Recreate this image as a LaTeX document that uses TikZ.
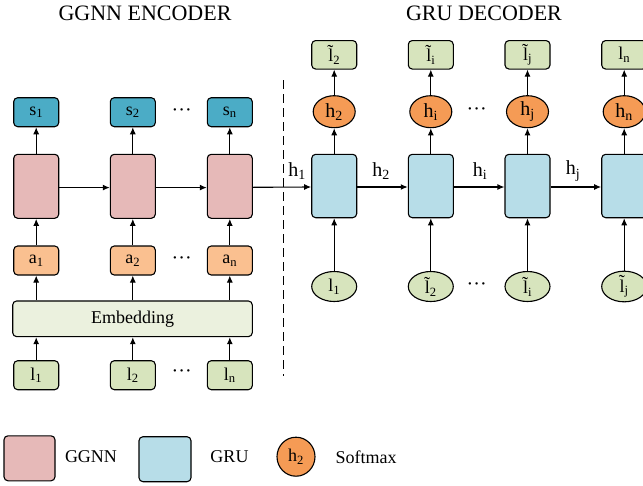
\documentclass[tikz,border=0pt]{standalone}
\usepackage{fontspec}
\setmainfont{Liberation Serif}
\usetikzlibrary{arrows.meta,shapes.geometric}
\definecolor{ggnn}{RGB}{230,185,184}
\definecolor{sboxc}{RGB}{75,172,198}
\definecolor{aboxc}{RGB}{250,192,144}
\definecolor{gruc}{RGB}{183,221,232}
\definecolor{softc}{RGB}{245,155,85}
\definecolor{lboxc}{RGB}{215,228,189}
\definecolor{embc}{RGB}{235,241,222}
\newcommand{\ltil}{\~{l}}
\newcommand{\mdots}{\textperiodcentered\textperiodcentered\textperiodcentered}
\begin{document}
\begin{tikzpicture}[x=1pt,y=-1pt,
  txt/.style={font=\fontsize{18}{20}\selectfont},
  bx/.style={draw, rounded corners=4pt, line width=1.1pt, inner sep=0pt, minimum width=45pt, minimum height=29pt, txt},
  tall/.style={bx, minimum height=64pt},
  ell/.style={draw, ellipse, line width=1.1pt, inner sep=0pt, txt},
  arr/.style={line width=1.1pt, -{Latex[length=7pt,width=6pt]}},
  dotsn/.style={inner sep=0pt, font=\fontsize{20}{22}\selectfont}
]
\useasboundingbox (0,0) rectangle (643,485);
\fill[white] (0,0) rectangle (643,485);
\clip (0,0) rectangle (643,485);

% titles
\node[font=\fontsize{22}{24}\selectfont] (t_enc) at (145,13) {GGNN ENCODER};
\node[font=\fontsize{22}{24}\selectfont] (t_dec) at (484,13) {GRU DECODER};

% encoder
\foreach \i/\x/\s in {1/36.2/1, 2/132.8/2, 3/229.8/n} {
  \node[bx, fill=sboxc] (s\i) at (\x,112.2) {s\textsubscript{\s}};
  \node[tall, fill=ggnn] (p\i) at (\x,186.3) {};
  \node[bx, fill=aboxc] (a\i) at (\x,260.5) {a\textsubscript{\s}};
  \node[bx, fill=lboxc] (l\i) at (\x,375.2) {l\textsubscript{\s}};
}
\node[bx, fill=embc, minimum width=239.6pt, minimum height=35.7pt] (emb) at (132.5,318.8) {Embedding};

\foreach \i in {1,2,3} {
  \draw[arr] (l\i.north) -- (l\i.north |- emb.south);
  \draw[arr] (a\i.south |- emb.north) -- (a\i.south);
  \draw[arr] (a\i.north) -- (p\i.south);
  \draw[arr] (p\i.north) -- (s\i.south);
}
\draw[arr] ([yshift=-1.3pt]p1.east) -- ([yshift=-1.3pt]p2.west);
\draw[arr] ([yshift=-1.3pt]p2.east) -- ([yshift=-1.3pt]p3.west);

\node[dotsn] (d1) at (181.7,113) {\mdots};
\node[dotsn] (d2) at (181.7,261) {\mdots};
\node[dotsn] (d3) at (181.7,374) {\mdots};

% divider
\coordinate (dv1) at (283.3,80);
\coordinate (dv2) at (283.3,376);
\draw[line width=1.1pt, dash pattern=on 9pt off 5pt] (dv1) -- (dv2);

% decoder
\foreach \i/\x/\top/\sm/\bot in {1/334.2/{\ltil\textsubscript{2}}/{h\textsubscript{2}}/{l\textsubscript{1}},
                                  2/430.8/{\ltil\textsubscript{i}}/{h\textsubscript{i}}/{\ltil\textsubscript{2}},
                                  3/527.5/{\ltil\textsubscript{j}}/{h\textsubscript{j}}/{\ltil\textsubscript{i}},
                                  4/624.2/{l\textsubscript{n}}/{h\textsubscript{n}}/{\ltil\textsubscript{j}}} {
  \node[bx, fill=lboxc, minimum height=28.5pt] (o\i) at (\x,54.8) {\top};
  \node[ell, fill=softc, minimum width=42pt, minimum height=32pt, font=\fontsize{20}{22}\selectfont] (c\i) at (\x,111.7) {\sm};
  \node[tall, fill=gruc, minimum height=63.4pt] (g\i) at (\x,186) {};
  \node[ell, fill=lboxc, minimum width=45pt, minimum height=30pt] (e\i) at (\x,286.5) {\bot};
  \draw[arr] (e\i.north) -- (g\i.south);
  \draw[arr] (g\i.north) -- (c\i.south);
  \draw[arr] (c\i.north) -- (o\i.south);
}
\draw[arr] ([yshift=-1pt]p3.east) -- ([yshift=-1pt]g1.west);
\draw[arr] ([yshift=-1pt]g1.east) -- ([yshift=-1pt]g2.west);
\draw[arr] ([yshift=-1pt]g2.east) -- ([yshift=-1pt]g3.west);
\draw[arr] ([yshift=-1pt]g3.east) -- ([yshift=-1pt]g4.west);

\node[font=\fontsize{20}{22}\selectfont] (hl1) at (297,171) {h\textsubscript{1}};
\node[font=\fontsize{20}{22}\selectfont] (hl2) at (381,171) {h\textsubscript{2}};
\node[font=\fontsize{20}{22}\selectfont] (hl3) at (480,171) {h\textsubscript{i}};
\node[font=\fontsize{20}{22}\selectfont] (hl4) at (573,171) {h\textsubscript{j}};

\node[dotsn] (d4) at (476.7,112) {\mdots};
\node[dotsn] (d5) at (476.7,287) {\mdots};

% legend
\node[bx, fill=ggnn, minimum width=51pt, minimum height=45pt] (lg1) at (29.5,458.3) {};
\node[txt] (lt1) at (91,457) {GGNN};
\node[bx, fill=gruc, minimum width=52pt, minimum height=45pt] (lg2) at (165,459.2) {};
\node[txt] (lt2) at (229.5,457) {GRU};
\node[ell, fill=softc, minimum width=38pt, minimum height=39pt] (lg3) at (296,456.7) {h\textsubscript{2}};
\node[txt] (lt3) at (366,457) {Softmax};
\end{tikzpicture}
\end{document}
